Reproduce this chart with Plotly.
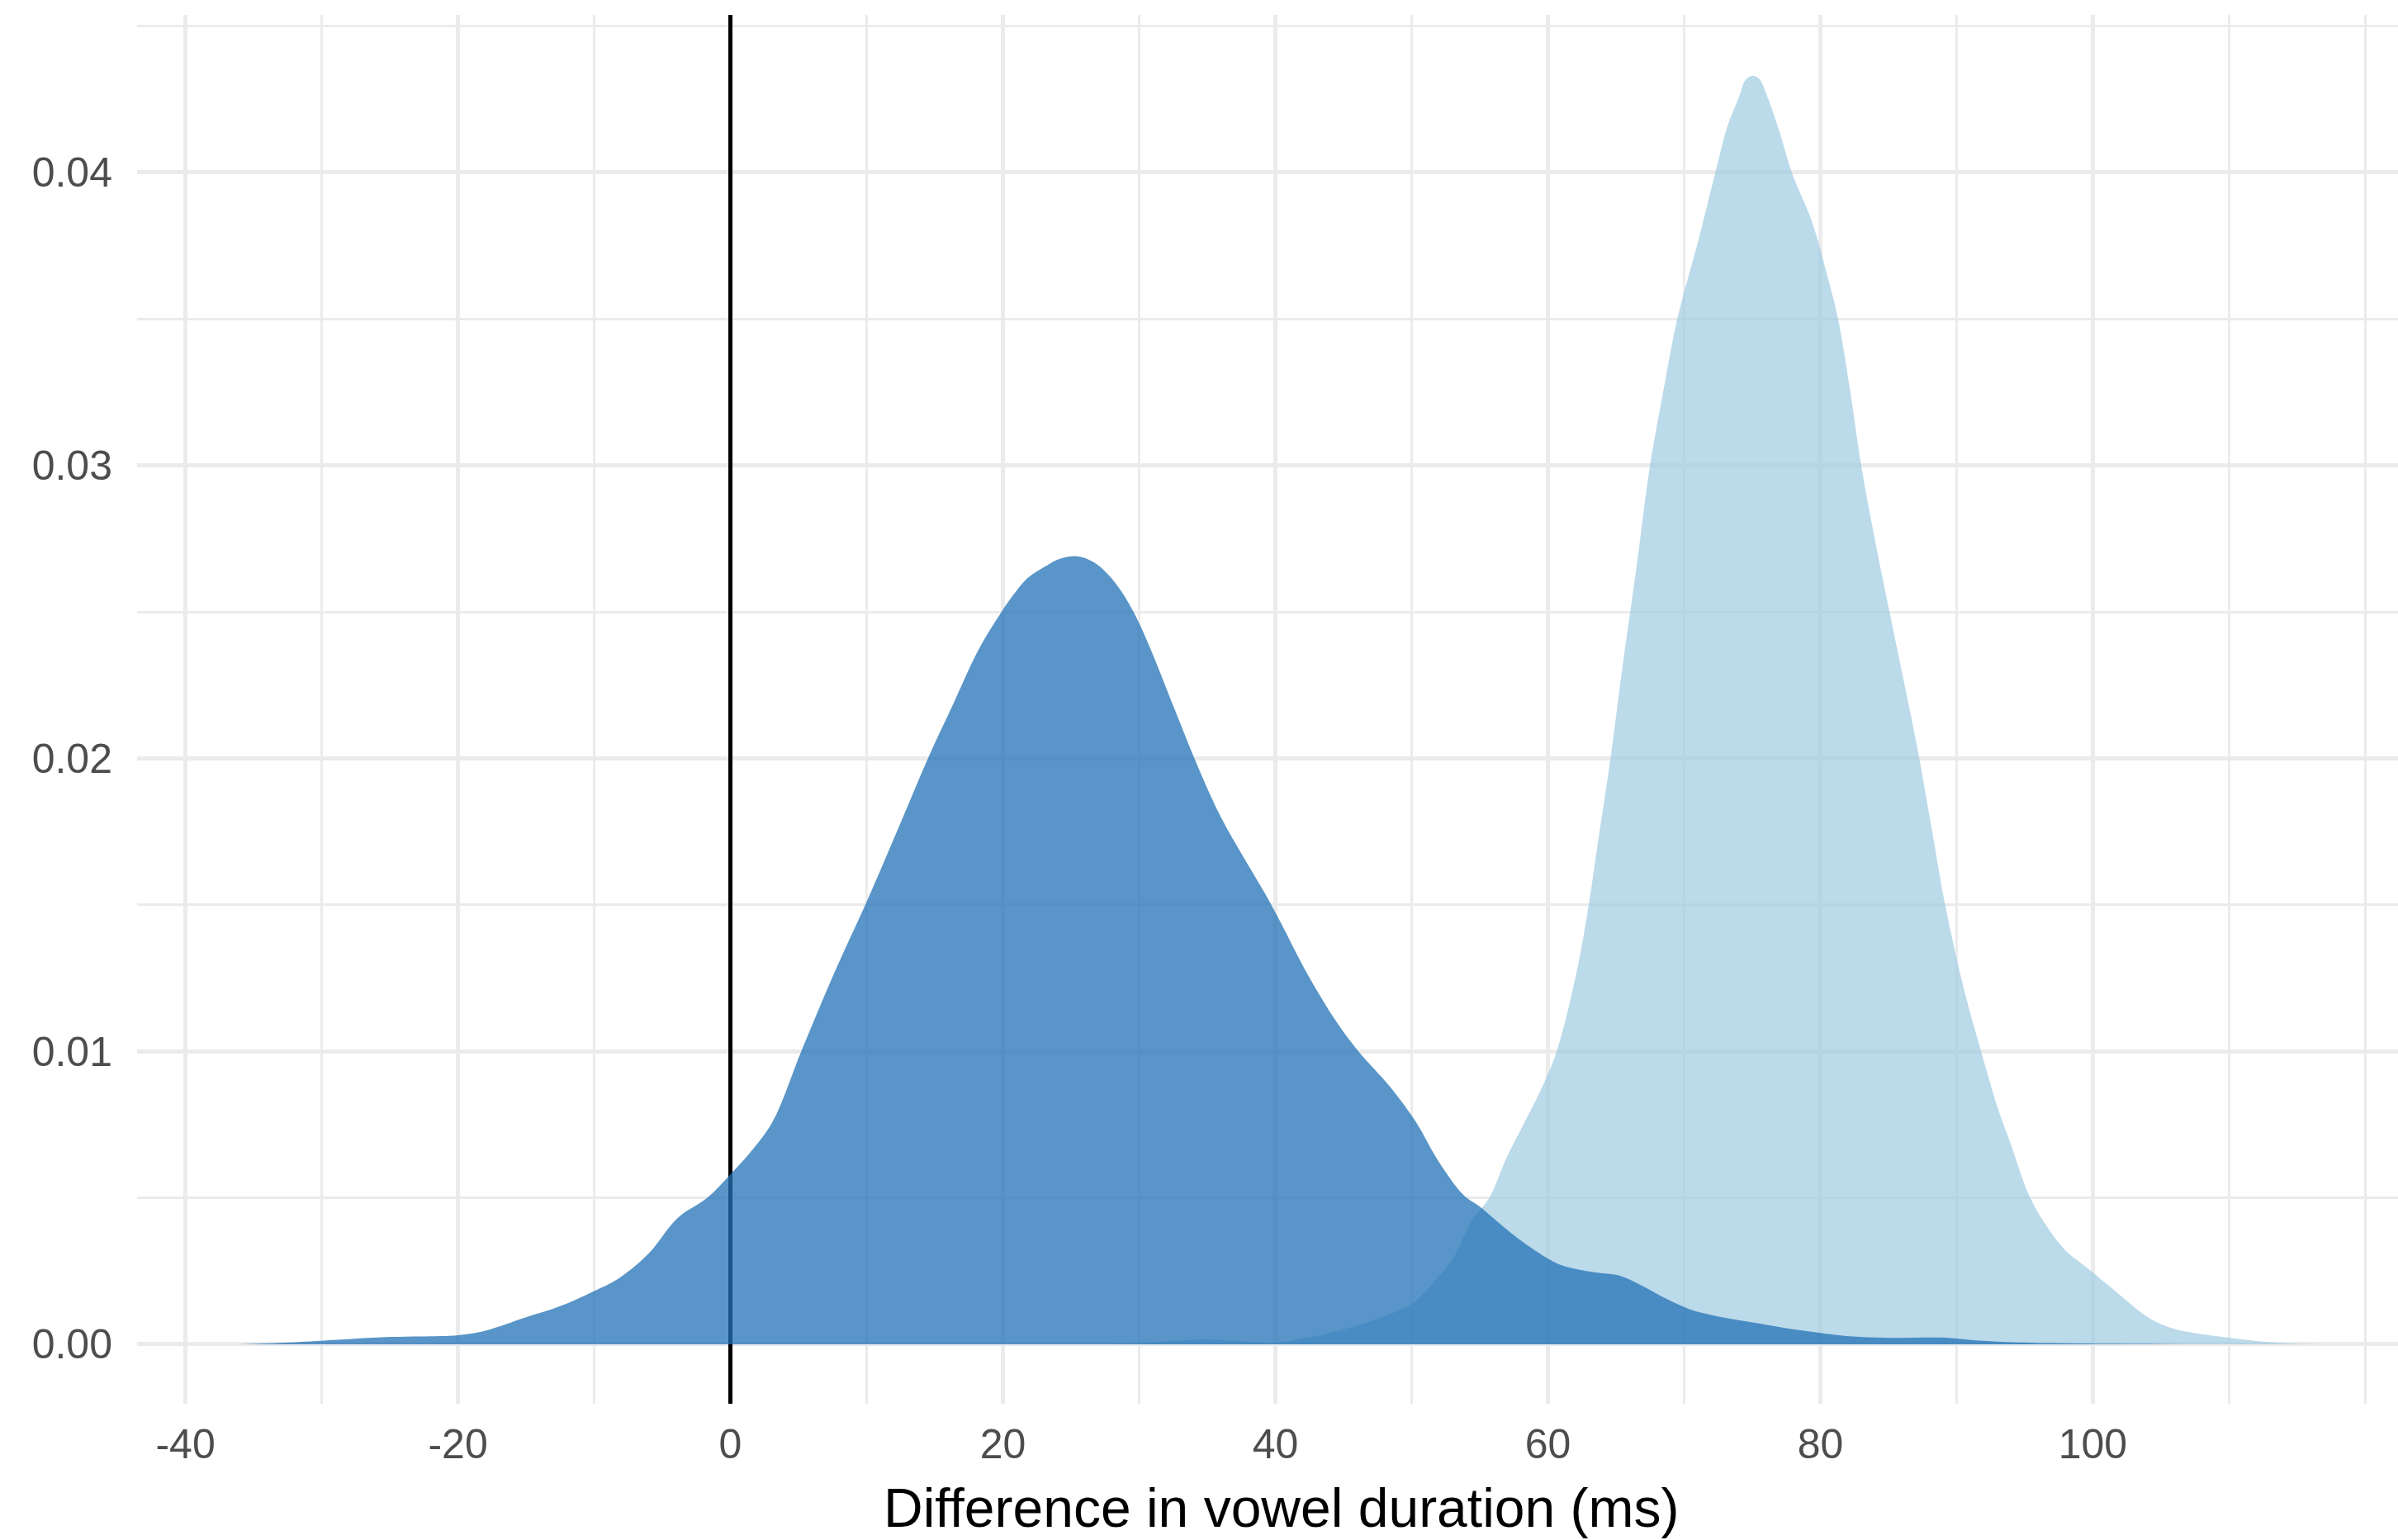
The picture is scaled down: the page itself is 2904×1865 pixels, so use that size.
import plotly.graph_objects as go

# Dark density (first group)
dark_x = [-36.1, -33, -30, -25, -20, -18.1, -15, -12.5, -10, -8.2, -6.0, -3.9, -1.7, 0,
          1.55, 3.1, 5.2, 7.55, 9.9, 12.4, 14.5, 16.3, 18.2, 19.9, 20.8, 21.8, 23.1, 24.1,
          25.5, 26.66, 27.68, 28.7, 29.7, 30.87, 32.5, 34.06, 36.0, 39.7, 42.4, 44.5, 46.1,
          48.4, 50.3, 51.9, 53.8, 55.0, 57.3, 59.4, 61.0, 63.4, 65.2, 66.9, 68.5, 70.4,
          72, 73.9, 75.4, 77.5, 79.8, 81.9, 85, 88.9, 91, 93.6, 97, 100.7, 105, 110]
dark_y = [0.0, 0.00005, 0.00012, 0.00025, 0.00031, 0.00045, 0.00092, 0.0013, 0.00182,
          0.00225, 0.0031, 0.0043, 0.005, 0.0058, 0.0066, 0.0076, 0.0100, 0.0126, 0.0150,
          0.0177, 0.0200, 0.0218, 0.0237, 0.0250, 0.0256, 0.02615, 0.02655, 0.0268, 0.0269,
          0.0267, 0.0263, 0.0257, 0.0249, 0.0237, 0.0218, 0.0200, 0.0180, 0.0150,
          0.0126, 0.0110, 0.0100, 0.0088, 0.0076, 0.0063, 0.0051, 0.0047, 0.0038, 0.0031,
          0.0027, 0.00246, 0.00235, 0.0020, 0.0016, 0.0012, 0.0010, 0.00083, 0.00072,
          0.00055, 0.0004, 0.00028, 0.00022, 0.00023, 0.00015, 0.00008, 0.00004, 0.00002,
          0.00001, 0.0]

# Light density (second group)
light_x = [28, 30, 32, 35, 37.5, 40, 42, 43.2, 46, 48.8, 50.2, 51.6, 53, 54.4, 55.7, 57,
           58.2, 59.4, 60.65, 62.2, 63.0, 63.7, 64.6, 65.5, 66.5, 67.5, 68.5, 69.5, 71,
           72.3, 73.2, 74.05, 74.5, 75.0, 75.5, 76.1, 77.0, 77.9, 79.4, 80.5, 81.3, 82.2,
           83.0, 84.2, 85.3, 87.06, 88.1, 89.16, 90.5, 91.8, 93, 94.0, 95.4, 96.8, 98,
           99.6, 101.95, 103.5, 104.7, 106, 107.5, 109.9, 112.2, 114.5, 116.7]
light_y = [0.0, 0.00003, 0.0001, 0.00016, 0.0001, 0.00005, 0.0002, 0.0003, 0.00064,
           0.0011, 0.00145, 0.0021, 0.0029, 0.0042, 0.0050, 0.0064, 0.0075, 0.0086, 0.0100,
           0.0129, 0.0150, 0.0172, 0.0200, 0.0232, 0.0265, 0.0300, 0.0326, 0.0350, 0.0376,
           0.0400, 0.0416, 0.0426, 0.04315, 0.0433, 0.0432, 0.0426, 0.0414, 0.0400, 0.0383,
           0.0365, 0.0350, 0.0325, 0.0300, 0.0270, 0.0245, 0.0205, 0.0178, 0.0150, 0.0122,
           0.0100, 0.0081, 0.0068, 0.0050, 0.0039, 0.0032, 0.0026, 0.0017, 0.0011, 0.00075,
           0.00052, 0.00038, 0.00023, 0.0001, 0.00003, 0.0]

x_ticks = [-40, -20, 0, 20, 40, 60, 80, 100]
x_ticklabels = ["-40", "-20", "0", "20", "40", "60", "80", "100"]
x_minor = [-30, -10, 10, 30, 50, 70, 90, 110, 120]
y_ticks = [0.00, 0.01, 0.02, 0.03, 0.04]
y_ticklabels = ["0.00", "0.01", "0.02", "0.03", "0.04"]
y_minor = [0.005, 0.015, 0.025, 0.035, 0.045]
x_range = [-43.55, 122.4]
y_range = [-0.00203, 0.04538]
vline_x = 0
x_title = "Difference in vowel duration (ms)"

W, H = 2904, 1865
L, R, T, B = 166, 0, 18, 165

fig = go.Figure()
# reference line at x = 0 (drawn beneath the densities)
fig.add_trace(go.Scatter(
    x=[vline_x, vline_x], y=y_range, mode="lines",
    line=dict(color="black", width=5), hoverinfo="skip", showlegend=False))
fig.add_trace(go.Scatter(
    x=light_x, y=light_y, mode="lines", fill="tozeroy",
    line=dict(width=0, shape="spline", smoothing=1.0, color="rgba(158,202,225,0)"),
    fillcolor="rgba(158,202,225,0.7)", hoverinfo="skip", showlegend=False))
fig.add_trace(go.Scatter(
    x=dark_x, y=dark_y, mode="lines", fill="tozeroy",
    line=dict(width=0, shape="spline", smoothing=1.0, color="rgba(33,113,181,0)"),
    fillcolor="rgba(33,113,181,0.75)", hoverinfo="skip", showlegend=False))

grid_major = "#ebebeb"
fig.update_xaxes(
    range=x_range, tickvals=x_ticks, ticktext=x_ticklabels,
    showgrid=True, gridcolor=grid_major, gridwidth=5, zeroline=False,
    showline=False, ticks="", ticklabelstandoff=15,
    tickfont=dict(family="Liberation Sans, Arial, sans-serif", size=50, color="#4d4d4d"),
    minor=dict(tickvals=x_minor, showgrid=True, gridcolor=grid_major, gridwidth=2.5),
)
fig.update_yaxes(
    range=y_range, tickvals=y_ticks, ticktext=y_ticklabels,
    showgrid=True, gridcolor=grid_major, gridwidth=5, zeroline=False,
    showline=False, ticks="", ticklabelstandoff=29,
    tickfont=dict(family="Liberation Sans, Arial, sans-serif", size=50, color="#4d4d4d"),
    minor=dict(tickvals=y_minor, showgrid=True, gridcolor=grid_major, gridwidth=2.5),
)

fig.add_annotation(
    text=x_title, xref="paper", yref="paper",
    x=(1552 - L) / (W - L - R), y=-(1826 - (H - B)) / (H - B - T),
    xanchor="center", yanchor="middle", showarrow=False,
    font=dict(family="Liberation Sans, Arial, sans-serif", size=66, color="black"))

fig.update_layout(
    width=W, height=H, margin=dict(l=L, r=R, t=T, b=B, autoexpand=False),
    paper_bgcolor="white", plot_bgcolor="white",
)

fig.write_html("out.html")
